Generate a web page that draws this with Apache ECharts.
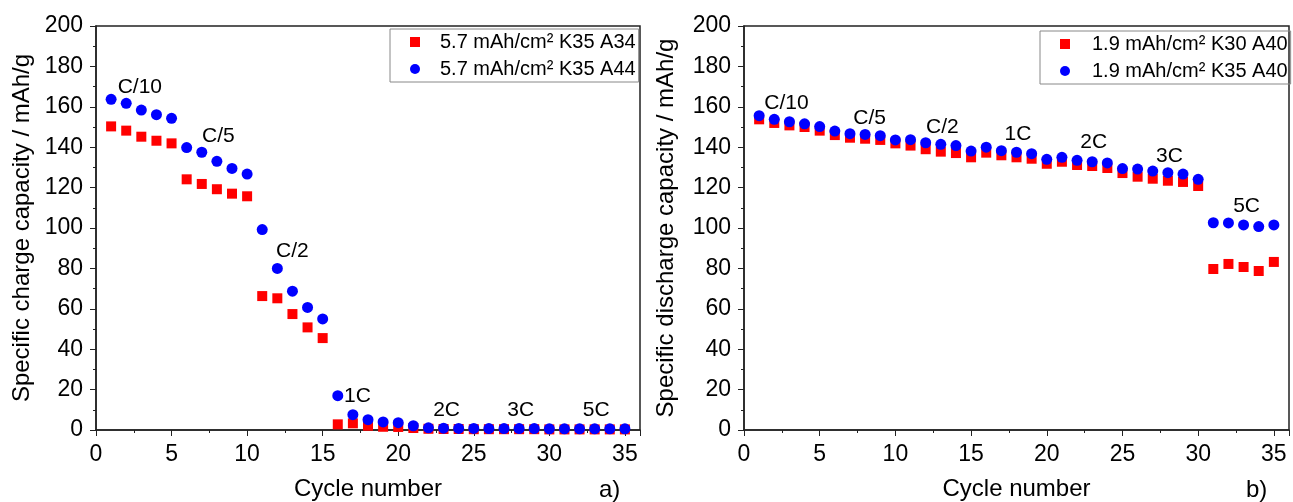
<!DOCTYPE html>
<html>
<head>
<meta charset="utf-8">
<script src="https://cdn.jsdelivr.net/npm/echarts@6/dist/echarts.min.js"></script>
<style>
  html, body { margin: 0; padding: 0; background: #fff; }
  #chart { width: 1293px; height: 502px; }
</style>
</head>
<body>
<div id="chart"></div>
<script>
    const cycles = [];
    for (let i = 1; i <= 35; i++) cycles.push(i);

    // a) charge capacity
    const chargeA34 = [150.3, 148.2, 145.2, 143.2, 141.9, 124.1, 121.8, 119.2, 117.0, 115.7,
        66.3, 65.2, 57.4, 50.8, 45.5, 2.8, 3.3, 2.1, 1.6, 1.5,
        1.0, 0.6, 0.5, 0.5, 0.4, 0.4, 0.4, 0.4, 0.4, 0.3,
        0.3, 0.3, 0.3, 0.3, 0.3];
    const chargeA44 = [163.7, 161.7, 158.4, 156.1, 154.3, 139.8, 137.5, 133.0, 129.5, 126.7,
        99.2, 80.0, 68.7, 60.7, 55.0, 17.0, 7.6, 5.1, 4.0, 3.6,
        2.1, 1.1, 0.9, 0.8, 0.8, 0.7, 0.7, 0.7, 0.7, 0.6,
        0.6, 0.6, 0.6, 0.6, 0.6];

    // b) discharge capacity
    const dischargeK30 = [153.8, 152.0, 150.8, 150.0, 148.2, 146.0, 144.7, 144.2, 143.6, 141.9,
        140.8, 139.0, 137.8, 137.1, 135.0, 137.3, 136.0, 135.0, 134.3, 131.8,
        132.8, 131.2, 130.7, 129.7, 127.2, 125.4, 124.4, 123.4, 122.8, 120.8,
        79.7, 82.2, 80.7, 78.7, 83.2];
    const dischargeK35 = [155.6, 153.8, 152.6, 151.6, 150.2, 148.0, 146.7, 146.3, 145.7, 143.6,
        143.7, 142.2, 141.4, 140.8, 138.1, 140.0, 138.3, 137.5, 136.8, 134.0,
        135.0, 133.5, 132.8, 132.2, 129.4, 129.2, 128.2, 127.4, 126.7, 124.1,
        102.6, 102.5, 101.5, 100.7, 101.5];

    // C-rate labels: [cycle, capacity, text]
    const ratesA = [[2.9, 169.8, 'C/10'], [8.1, 145.5, 'C/5'], [13.0, 88.6, 'C/2'],
        [17.3, 16.8, '1C'], [23.2, 9.9, '2C'], [28.1, 9.9, '3C'], [33.1, 9.9, '5C']];
    const ratesB = [[2.8, 161.9, 'C/10'], [8.3, 154.5, 'C/5'], [13.1, 150.0, 'C/2'],
        [18.1, 146.5, '1C'], [23.1, 142.6, '2C'], [28.1, 135.6, '3C'], [33.2, 110.9, '5C']];

    const FONT = 'Liberation Sans, Arial, sans-serif';
    const AXIS_COLOR = '#222';

    const xAxisOpt = (gridIndex) => ({
        gridIndex,
        type: 'value',
        min: 0, max: 36, interval: 5,
        name: 'Cycle number',
        nameLocation: 'middle',
        nameGap: 47,
        nameTextStyle: { fontSize: 24, color: '#000', fontFamily: FONT },
        axisLine: { show: true, lineStyle: { color: AXIS_COLOR, width: 1.5 } },
        axisTick: { show: true, inside: false, length: 6, lineStyle: { color: AXIS_COLOR } },
        minorTick: { show: true, splitNumber: 2, length: 3, lineStyle: { color: AXIS_COLOR } },
        axisLabel: { fontSize: 23, color: '#000', fontFamily: FONT, margin: 13,
            formatter: v => (v % 5 === 0 && v <= 35) ? String(v) : '' },
        splitLine: { show: false }
    });

    const yAxisOpt = (gridIndex, name, gap) => ({
        gridIndex,
        type: 'value',
        min: 0, max: 200, interval: 20,
        name,
        nameLocation: 'middle',
        nameGap: gap,
        nameTextStyle: { fontSize: 24, color: '#000', fontFamily: FONT },
        axisLine: { show: true, lineStyle: { color: AXIS_COLOR, width: 1.5 } },
        axisTick: { show: true, inside: false, length: 6, lineStyle: { color: AXIS_COLOR } },
        minorTick: { show: true, splitNumber: 2, length: 3, lineStyle: { color: AXIS_COLOR } },
        axisLabel: { fontSize: 23, color: '#000', fontFamily: FONT, margin: 13 },
        splitLine: { show: false }
    });

    const scatter = (name, xi, values, symbol, color, z) => ({
        name,
        type: 'scatter',
        xAxisIndex: xi, yAxisIndex: xi,
        symbol,
        symbolSize: symbol === 'rect' ? 10 : 11,
        itemStyle: { color, opacity: 1 },
        z,
        animation: false,
        data: cycles.map((c, i) => [c, values[i]])
    });

    const rateLabels = (xi, rates) => ({
        type: 'scatter',
        xAxisIndex: xi, yAxisIndex: xi,
        symbolSize: 0,
        silent: true,
        animation: false,
        itemStyle: { opacity: 1 },
        label: {
            show: true, position: 'inside', formatter: p => p.data[2],
            fontSize: 21, color: '#000', fontFamily: FONT, textBorderWidth: 0
        },
        data: rates
    });

    const legendOpt = (left, top, names, textGap) => ({
        orient: 'vertical',
        left, top,
        data: names,
        borderColor: '#888',
        borderWidth: 1,
        borderRadius: 0,
        padding: [3, 3, 3, 20],
        itemGap: 7,
        itemWidth: 10,
        itemHeight: 10,
        textStyle: { fontSize: 20, color: '#000', fontFamily: FONT, padding: [0, 0, 0, textGap] }
    });

    const chart = echarts.init(document.getElementById('chart'));
    chart.setOption({
        backgroundColor: '#fff',
        animation: false,
        grid: [
            { left: 96, top: 26, width: 544, height: 404, show: true, borderColor: AXIS_COLOR, borderWidth: 1.5,
              outerBoundsMode: 'none', containLabel: false },
            { left: 744, top: 26, width: 545, height: 404, show: true, borderColor: AXIS_COLOR, borderWidth: 1.5,
              outerBoundsMode: 'none', containLabel: false }
        ],
        xAxis: [xAxisOpt(0), xAxisOpt(1)],
        yAxis: [yAxisOpt(0, 'Specific charge capacity / mAh/g', 62),
                yAxisOpt(1, 'Specific discharge capacity / mAh/g', 66)],
        legend: [
            legendOpt(390, 29, ['5.7 mAh/cm² K35 A34', '5.7 mAh/cm² K35 A44'], 15),
            legendOpt(1040, 31, ['1.9 mAh/cm² K30 A40', '1.9 mAh/cm² K35 A40'], 17)
        ],
        series: [
            scatter('5.7 mAh/cm² K35 A34', 0, chargeA34, 'rect', '#ff0000', 2),
            scatter('5.7 mAh/cm² K35 A44', 0, chargeA44, 'circle', '#0000ff', 3),
            scatter('1.9 mAh/cm² K30 A40', 1, dischargeK30, 'rect', '#ff0000', 2),
            scatter('1.9 mAh/cm² K35 A40', 1, dischargeK35, 'circle', '#0000ff', 3),
            rateLabels(0, ratesA),
            rateLabels(1, ratesB)
        ],
        graphic: [
            { type: 'text', left: 599, top: 478, style: { text: 'a)', fontSize: 24, fill: '#000', fontFamily: FONT } },
            { type: 'text', left: 1246, top: 478, style: { text: 'b)', fontSize: 24, fill: '#000', fontFamily: FONT } }
        ]
    });
</script>
</body>
</html>
